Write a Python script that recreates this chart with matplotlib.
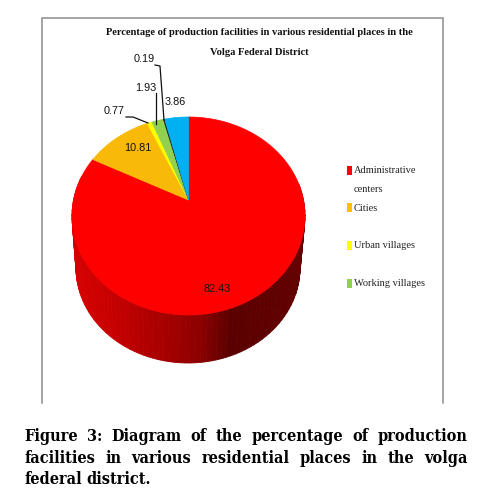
import numpy as np
import matplotlib
matplotlib.use("Agg")
import matplotlib.pyplot as plt
from matplotlib.patches import Polygon, Rectangle

# data
slice_values = [82.43, 10.81, 0.77, 1.93, 0.19, 3.86]
slice_labels = ["82.43", "10.81", "0.77", "1.93", "0.19", "3.86"]
slice_colors = ["#FF0000", "#F9B908", "#FFFF00", "#92D050", "#1A1A1A", "#00B0F0"]
legend_names = ["Administrative\ncenters", "Cities", "Urban villages", "Working villages"]
legend_colors = ["#FF0000", "#FFC000", "#FFFF00", "#92D050"]
title_lines = ["Percentage of production facilities in various residential places in the",
               "Volga Federal District"]
caption_lines = ["Figure 3: Diagram of the percentage of production",
                 "facilities in various residential places in the volga",
                 "federal district."]

# layout, in pixels
W, H = 488, 498
CX, CY, RX, RY = 188.5, 216.0, 116.5, 99.0
TILT = 16.0 / 99.0
BCX, BCY, BRX, BRY = 188.0, 268.0, 112.0, 95.0
label_pos = [(217, 289), (138, 148), (114, 111), (146, 88), (144, 59), (175, 102)]
legend_y = [170, 207.5, 245, 283]
legend_text_y = [(170, 189), (208,), (245,), (283,)]

SANS = "Liberation Sans"
SERIF = "Liberation Serif"

fig = plt.figure(figsize=(W / 100, H / 100), dpi=100, facecolor="white")
ax = fig.add_axes([0, 0, 1, 1])
ax.set_xlim(0, W)
ax.set_ylim(H, 0)
ax.axis("off")


def project(theta):
    x, y = np.sin(theta), np.cos(theta)
    d = 1 + TILT * y
    return x * np.sqrt(1 - TILT ** 2) / d, (y + TILT) / d


def rim(theta):
    xp, yp = project(theta)
    return CX + RX * xp, CY - RY * yp


def bottom(theta):
    xp, yp = project(theta)
    return BCX + BRX * xp, BCY - BRY * yp


# side wall, shaded in strips
stop_x = [72, 110, 167, 200, 230, 305]
stop_r = [215, 200, 165, 140, 90, 100]
ths = np.linspace(np.radians(80), np.radians(285), 90)
for t0, t1 in zip(ths[:-1], ths[1:]):
    xa, ya = rim(np.array([t0, t1]))
    xb, yb = bottom(np.array([t1, t0]))
    r = np.interp(0.5 * (xa.mean() + xb.mean()), stop_x, stop_r) / 255
    ax.add_patch(Polygon(np.c_[np.r_[xa, xb], np.r_[ya, yb]], closed=True,
                         facecolor=(r, 0, 0), edgecolor=(r, 0, 0), lw=0.6))

# top face
fracs = np.cumsum([0] + slice_values) / sum(slice_values) * 2 * np.pi
apex = (CX, CY - RY * TILT)
for a, b, c in zip(fracs[:-1], fracs[1:], slice_colors):
    t = np.linspace(a, b, max(3, int((b - a) * 60)))
    xs, ys = rim(t)
    ax.add_patch(Polygon(np.c_[np.r_[apex[0], xs], np.r_[apex[1], ys]], closed=True,
                         facecolor=c, edgecolor=c, lw=0.5))

# leader lines
ax.plot([155, 160, 164], [65, 66, 120], color="#111111", lw=0.9)
ax.plot([156, 156], [93, 124], color="#111111", lw=0.9)
ax.plot([126, 133, 148], [117, 117, 123], color="#111111", lw=0.9)

# data labels
for (x, y), s in zip(label_pos, slice_labels):
    ax.text(x, y, s, ha="center", va="center", family=SANS, fontsize=7.8, color="#111111")

# frame
FRAME = "#8C8C8C"
ax.plot([41.5, 41.5, 443, 443], [403, 18, 18, 403], color=FRAME, lw=1.1, solid_joinstyle="miter")

# title
for s, y in zip(title_lines, (32, 52)):
    ax.text(259, y, s, ha="center", va="center", family=SERIF, weight="bold", fontsize=7.6, color="#111111")

# legend
for col, y in zip(legend_colors, legend_y):
    ax.add_patch(Rectangle((347, y - 4.5), 5, 9, facecolor=col, edgecolor="none"))
for name, ys in zip(legend_names, legend_text_y):
    for s, y in zip(name.split("\n"), ys):
        ax.text(354, y, s, ha="left", va="center", family=SERIF, fontsize=7.5, color="#222222")

# justified caption
fig.canvas.draw()
rend = fig.canvas.get_renderer()
L, R = 24.3, 467.7
for i, (s, y) in enumerate(zip(caption_lines, (441, 463, 484))):
    words = s.split(" ")
    arts = [ax.text(0, y, w, ha="left", va="baseline", family="DejaVu Serif", stretch="condensed",
                    weight="bold", fontsize=11.6, color="black") for w in words]
    widths = [a.get_window_extent(rend).width for a in arts]
    gap = (R - L - sum(widths)) / (len(words) - 1) if i < 2 else 4.0
    x = L
    for a, w in zip(arts, widths):
        a.set_x(x)
        x += w + gap

fig.savefig("out.png", dpi=100, facecolor="white")
